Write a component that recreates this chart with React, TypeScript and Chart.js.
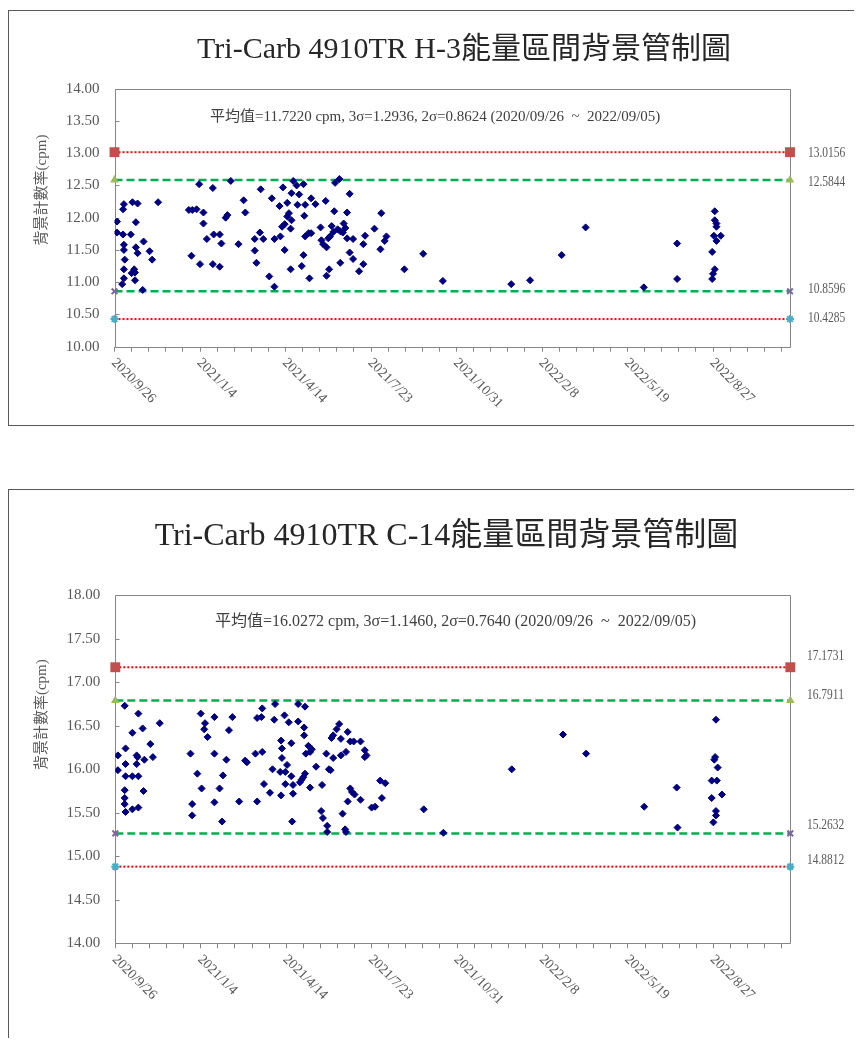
import React, { useEffect, useRef } from 'react';
import { Chart, registerables } from 'chart.js';

Chart.register(...registerables);

// ---------- shared axis data ----------
const xTickLabels = ['2020/9/26', '2021/1/4', '2021/4/14', '2021/7/23', '2021/10/31', '2022/2/8', '2022/5/19', '2022/8/27'];
const xMajorStep = 100; // days between labelled ticks
const xMinorStep = 20; // days between tick marks
const xMaxDay = 790; // days after 2020/9/26 at right edge

// ---------- H-3 ----------
const h3Title = 'Tri-Carb 4910TR H-3能量區間背景管制圖';
const h3Note = '平均值=11.7220 cpm, 3σ=1.2936, 2σ=0.8624 (2020/09/26  ~  2022/09/05)';
const h3Limits = [13.0156, 12.5844, 10.8596, 10.4285];
const h3YRange = [10, 14];
const h3Days = [
  3, 3, 9, 10, 10, 11, 11, 11, 12, 11, 11, 19, 21, 20, 23, 24, 24, 25, 25, 27, 27, 33, 34, 41, 44, 51,
  87, 91, 96, 90, 99, 100, 104, 104, 108, 115, 115, 116, 123, 123, 125, 130, 132, 136, 145, 151, 153,
  164, 164, 166, 170, 171, 174, 181, 184, 187, 187,
  193, 194, 196, 197, 199, 199, 202, 202, 204, 206,
  206, 207, 207, 209, 213, 214, 216, 219, 221, 221,
  222, 223, 223, 227, 228, 230, 230, 235, 241, 242,
  244, 247, 248, 248, 250, 251, 252, 254, 256, 257,
  258, 261, 263, 264, 264, 267, 268, 270, 272, 272,
  275, 275, 279, 279, 286, 291, 291, 293, 304, 311,
  312, 316, 318,
  339, 361, 384, 464, 486, 523, 551, 619, 658, 658,
  702, 702, 704, 704, 701, 709, 704, 699, 702, 700, 699,
];
const h3Cpm = [
  11.94, 11.77, 10.97, 12.13, 11.74, 12.21, 11.58, 11.5, 11.35, 11.2, 11.06, 11.74, 12.24, 11.14, 11.2, 11.15, 11.03, 11.93, 11.54, 11.45, 12.22, 10.88, 11.63, 11.48, 11.35, 12.24,
  12.12, 12.12, 12.13, 11.41, 12.52, 11.28, 12.08, 11.91, 11.67, 12.46, 11.28, 11.74, 11.74, 11.24, 11.6, 12.0, 12.04, 12.57, 11.59, 12.27, 12.08,
  11.67, 11.49, 11.3, 11.77, 12.44, 11.67, 11.09, 12.3, 11.67, 10.93,
  12.18, 11.71, 11.86, 12.47, 11.9, 11.5, 12.23, 12.02, 12.07, 11.83,
  11.2, 12.38, 11.96, 12.57, 12.5, 12.2, 12.36, 11.25, 12.52, 11.42,
  12.03, 12.2, 11.71, 11.76, 11.06, 12.3, 11.76, 12.21, 11.85, 11.65,
  11.59, 12.26, 11.54, 11.1, 11.68, 11.2, 11.71, 11.87, 11.78, 12.1,
  12.54, 11.82, 12.6, 11.79, 11.3, 11.77, 11.91, 11.84, 12.08, 11.68,
  12.37, 11.46, 11.67, 11.36, 11.17, 11.59, 11.28, 11.72, 11.83, 11.51,
  12.07, 11.64, 11.71,
  11.2, 11.44, 11.02, 10.97, 11.03, 11.42, 11.85, 10.92, 11.6, 11.05,
  12.1, 11.96, 11.91, 11.86, 11.72, 11.72, 11.64, 11.47, 11.2, 11.13, 11.05,
];

// ---------- C-14 ----------
const c14Title = 'Tri-Carb 4910TR C-14能量區間背景管制圖';
const c14Note = '平均值=16.0272 cpm, 3σ=1.1460, 2σ=0.7640 (2020/09/26  ~  2022/09/05)';
const c14Limits = [17.1731, 16.7911, 15.2632, 14.8812];
const c14YRange = [14, 18];
const c14Days = [
  3, 3, 11, 11, 11, 11, 12, 12, 12, 12, 20, 20, 20, 25, 25, 26, 27, 27, 27, 32, 33, 34, 41, 44, 52,
  88, 90, 90, 96, 100, 101, 104, 105, 108, 116, 116, 116, 122, 125, 126, 130, 133, 137, 145, 152, 154,
  164, 166, 166, 171, 172, 172, 174, 181, 184, 186,
  187, 193, 194, 194, 195, 195, 198, 199, 199, 201,
  203, 206, 206, 207, 208, 208, 214, 214, 216, 218,
  220, 221, 221, 222, 222, 223, 226, 228, 228, 230,
  235, 241, 242, 243, 247, 248, 248, 250, 252, 253,
  255, 255, 259, 262, 264, 264, 266, 269, 270, 270,
  272, 272, 275, 275, 277, 279, 280, 287, 287, 292,
  292, 294, 300, 304, 310, 312, 316,
  361, 384, 464, 524, 551, 619, 657, 658,
  703, 702, 701, 705, 698, 704, 710, 698, 703, 703, 700,
];
const c14Cpm = [
  16.16, 15.99, 16.73, 15.76, 15.67, 15.6, 16.24, 16.06, 15.92, 15.51, 15.54, 16.42, 15.92, 16.16, 16.06, 16.14, 16.64, 15.92, 15.56, 16.47, 15.75, 16.11, 16.29, 16.14, 16.53,
  16.18, 15.6, 15.47, 15.95, 16.64, 15.78, 16.46, 16.53, 16.37, 16.6, 16.18, 15.62, 15.78, 15.4, 15.93, 16.11, 16.45, 16.6, 15.63, 16.1, 16.08,
  16.18, 16.59, 15.63, 16.6, 16.7, 16.2, 15.83, 15.73, 16.0, 16.57,
  16.75, 15.97, 16.33, 15.7, 16.24, 16.13, 16.62, 15.97, 15.83, 16.05,
  16.54, 16.3, 15.92, 15.4, 15.82, 15.72, 16.55, 16.75, 15.85, 15.88,
  15.91, 16.48, 16.39, 16.72, 15.95, 16.18, 16.27, 16.2, 15.79, 16.23,
  16.03, 15.52, 15.82, 15.44, 16.18, 15.35, 15.28, 16.0, 15.99, 16.36,
  16.13, 16.39, 16.46, 16.52, 16.35, 16.16, 15.49, 15.31, 15.28, 16.2,
  16.43, 15.63, 16.32, 15.78, 15.74, 16.32, 15.71, 16.32, 15.65, 16.22,
  16.14, 16.16, 15.56, 15.57, 15.87, 15.67, 15.84,
  15.54, 15.27, 16.0, 16.4, 16.18, 15.57, 15.79, 15.33,
  16.57, 16.14, 16.11, 16.02, 15.87, 15.87, 15.71, 15.67, 15.52, 15.47, 15.39,
];

// ---------- styling ----------
const AXIS = '#868686';
const TEXT = '#595959';
const SERIF = '"Liberation Serif", "Times New Roman", "Noto Sans CJK TC", serif';

const limitStyles = [
  { line: '#FF0000', width: 2, dash: [2, 2], point: 'rect', radius: 7, fill: '#C0504D', stroke: '#C0504D', bw: 0 },
  { line: '#00B050', width: 2.5, dash: [8, 4], point: 'triangle', radius: 5, fill: '#9BBB59', stroke: '#9BBB59', bw: 0 },
  { line: '#00B050', width: 2.5, dash: [8, 4], point: 'crossRot', radius: 4, fill: '#8064A2', stroke: '#8064A2', bw: 2 },
  { line: '#FF0000', width: 2, dash: [2, 2], point: 'star', radius: 4, fill: '#4BACC6', stroke: '#4BACC6', bw: 2 },
];

type Spec = {
  title: string; note: string; limits: number[]; yRange: number[]; days: number[]; cpm: number[];
  boxTop: number; boxH: number; canvasH: number; bottomBorder: boolean;
  area: { left: number; right: number; top: number; bottom: number };
  titlePos: [number, number]; titleSize: number;
  notePos: [number, number]; noteSize: number;
  yTitlePos: [number, number];
  rightLabelX: number; rightLabelDy: number[];
};

const CANVAS_W = 853;

function makeDecor(s: Spec) {
  return {
    id: 'decor',
    beforeDatasetsDraw(chart: any) {
      const { ctx, chartArea: a } = chart;
      const y = chart.scales.y;
      ctx.save();
      ctx.strokeStyle = AXIS;
      ctx.lineWidth = 1;
      ctx.beginPath();
      const L = Math.round(a.left) + 0.5, R = Math.round(a.right) + 0.5;
      const T = Math.round(a.top) + 0.5, B = Math.round(a.bottom) + 0.5;
      ctx.rect(L, T, R - L, B - T);
      y.ticks.forEach((t: any) => {
        const py = Math.round(y.getPixelForValue(t.value)) + 0.5;
        ctx.moveTo(L, py);
        ctx.lineTo(L + 4, py);
      });
      ctx.stroke();
      ctx.restore();
    },
    afterDraw(chart: any) {
      const { ctx, chartArea: a } = chart;
      const x = chart.scales.x;
      const y = chart.scales.y;
      ctx.save();
      // title
      ctx.fillStyle = '#262626';
      ctx.font = `${s.titleSize}px ${SERIF}`;
      ctx.textAlign = 'center';
      ctx.textBaseline = 'middle';
      ctx.fillText(s.title, s.titlePos[0], s.titlePos[1]);
      // note
      ctx.fillStyle = '#404040';
      ctx.font = `${s.noteSize}px ${SERIF}`;
      ctx.textAlign = 'left';
      ctx.fillText(s.note, s.notePos[0], s.notePos[1]);
      // y title
      ctx.save();
      ctx.translate(s.yTitlePos[0], s.yTitlePos[1]);
      ctx.rotate(-Math.PI / 2);
      ctx.fillStyle = TEXT;
      ctx.font = `15px ${SERIF}`;
      ctx.textAlign = 'center';
      ctx.fillText('背景計數率(cpm)', 0, 0);
      ctx.restore();
      // right labels
      ctx.fillStyle = TEXT;
      ctx.font = `14px ${SERIF}`;
      ctx.textAlign = 'left';
      s.limits.forEach((v, i) => {
        ctx.save();
        ctx.translate(s.rightLabelX, y.getPixelForValue(v) + s.rightLabelDy[i]);
        ctx.scale(0.82, 1);
        ctx.fillText(v.toFixed(4), 0, 0);
        ctx.restore();
      });
      // x labels (rotated 45deg clockwise)
      ctx.font = `14px ${SERIF}`;
      ctx.fillStyle = TEXT;
      xTickLabels.forEach((lab, i) => {
        const px = x.getPixelForValue(i * xMajorStep);
        ctx.save();
        ctx.translate(px - 1, a.bottom + 14);
        ctx.rotate(Math.PI / 4);
        ctx.textAlign = 'left';
        ctx.textBaseline = 'middle';
        ctx.fillText(lab, 0, 0);
        ctx.restore();
      });
      ctx.restore();
    },
  };
}

function ControlChart({ s }: { s: Spec }) {
  const ref = useRef<HTMLCanvasElement | null>(null);
  useEffect(() => {
    const cv = ref.current;
    if (!cv) return;
    const minorTicks: number[] = [];
    for (let d = 0; d < xMaxDay; d += xMinorStep) minorTicks.push(d);
    const points = s.days.map((d, i) => ({ x: d, y: s.cpm[i] }));
    const limitSets = s.limits.map((v, i) => {
      const st = limitStyles[i];
      return {
        data: [{ x: 0, y: v }, { x: xMaxDay, y: v }],
        showLine: true,
        borderColor: st.line,
        borderWidth: st.width,
        borderDash: st.dash,
        pointStyle: st.point,
        pointRadius: st.radius,
        pointBackgroundColor: st.fill,
        pointBorderColor: st.stroke,
        pointBorderWidth: st.bw,
        clip: false,
      };
    });
    const chart = new Chart(cv, {
      type: 'scatter',
      data: {
        datasets: [
          {
            data: points,
            pointStyle: 'rectRot',
            pointRadius: 3.5,
            pointBackgroundColor: '#000080',
            pointBorderColor: '#000080',
            pointBorderWidth: 1,
          } as any,
          ...(limitSets as any[]),
        ],
      },
      options: {
        animation: false,
        responsive: false,
        devicePixelRatio: 1,
        events: [],
        layout: {
          padding: { left: 0, right: CANVAS_W - s.area.right, top: s.area.top, bottom: 0 },
        },
        plugins: { legend: { display: false }, tooltip: { enabled: false }, title: { display: false } },
        scales: {
          x: {
            type: 'linear',
            min: 0,
            max: xMaxDay,
            border: { display: false },
            grid: { display: true, drawOnChartArea: false, drawTicks: true, tickLength: 5, color: AXIS, lineWidth: 1 },
            ticks: { display: false },
            afterBuildTicks: (sc: any) => { sc.ticks = minorTicks.map((v) => ({ value: v })); },
            afterFit: (sc: any) => { sc.height = s.canvasH - s.area.bottom; },
          },
          y: {
            min: s.yRange[0],
            max: s.yRange[1],
            border: { display: false },
            grid: { display: false, drawTicks: false },
            ticks: {
              stepSize: 0.5,
              padding: 15,
              color: TEXT,
              font: { family: SERIF, size: 15 },
              callback: (v: any) => Number(v).toFixed(2),
            },
            afterFit: (sc: any) => { sc.width = s.area.left; },
          },
        },
      },
      plugins: [makeDecor(s)],
    } as any);
    return () => chart.destroy();
  }, [s]);
  const edge = '1px solid #595959';
  return (
    <div
      style={{
        position: 'absolute', left: 0, top: s.boxTop, width: 854, height: s.boxH,
        borderTop: edge, borderLeft: edge, borderBottom: s.bottomBorder ? edge : 'none', borderRight: 'none',
        boxSizing: 'border-box', background: '#fff', overflow: 'hidden',
      }}
    >
      <canvas
        ref={ref}
        width={CANVAS_W}
        height={s.canvasH}
        style={{ position: 'absolute', left: 0, top: 0, width: CANVAS_W, height: s.canvasH }}
      />
    </div>
  );
}

const h3Spec: Spec = {
  title: h3Title, note: h3Note, limits: h3Limits, yRange: h3YRange, days: h3Days, cpm: h3Cpm,
  boxTop: 2, boxH: 416, canvasH: 414, bottomBorder: true,
  area: { left: 105.5, right: 781, top: 77.7, bottom: 335.7 },
  titlePos: [455, 39], titleSize: 30,
  notePos: [201, 105.7], noteSize: 15,
  yTitlePos: [33, 179],
  rightLabelX: 799, rightLabelDy: [1, 2, -2, -1],
};

const c14Spec: Spec = {
  title: c14Title, note: c14Note, limits: c14Limits, yRange: c14YRange, days: c14Days, cpm: c14Cpm,
  boxTop: 481, boxH: 557, canvasH: 556, bottomBorder: false,
  area: { left: 106.3, right: 781.3, top: 105.3, bottom: 453.3 },
  titlePos: [437.5, 47], titleSize: 32,
  notePos: [206, 131.7], noteSize: 16,
  yTitlePos: [33, 224.7],
  rightLabelX: 798, rightLabelDy: [-11, -5.5, -8.4, -6.7],
};

export default function App() {
  return (
    <div style={{ position: 'relative', width: 846, height: 1030 }}>
      <ControlChart s={h3Spec} />
      <ControlChart s={c14Spec} />
    </div>
  );
}
